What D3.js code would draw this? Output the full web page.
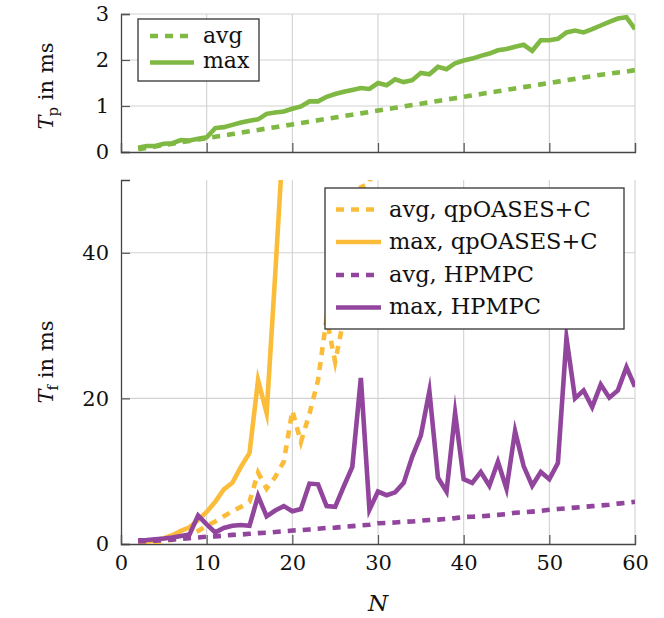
<!DOCTYPE html>
<html><head><meta charset="utf-8">
<script src="https://cdn.jsdelivr.net/npm/d3@7"></script>
<style>
body{margin:0;background:#fff;}
svg text{font-family:"DejaVu Serif",serif;fill:#111;}
</style></head>
<body><svg id="c" width="664" height="618"></svg>
<script>
// ---- data ----
const N = [2,3,4,5,6,7,8,9,10,11,12,13,14,15,16,17,18,19,20,21,22,23,24,25,26,27,28,29,30,31,32,33,34,35,36,37,38,39,40,41,42,43,44,45,46,47,48,49,50,51,52,53,54,55,56,57,58,59,60];
const tpAvg = [0.06,0.09,0.12,0.15,0.18,0.21,0.24,0.27,0.30,0.33,0.36,0.39,0.42,0.45,0.48,0.51,0.54,0.57,0.60,0.63,0.66,0.69,0.72,0.75,0.78,0.81,0.84,0.87,0.90,0.93,0.96,0.99,1.02,1.05,1.08,1.11,1.14,1.17,1.20,1.23,1.26,1.29,1.32,1.35,1.38,1.41,1.44,1.47,1.50,1.53,1.56,1.59,1.62,1.65,1.68,1.70,1.73,1.75,1.78];
const tpMax = [0.09,0.13,0.13,0.18,0.19,0.26,0.25,0.29,0.32,0.52,0.54,0.59,0.64,0.68,0.71,0.83,0.86,0.88,0.94,0.99,1.10,1.10,1.20,1.26,1.31,1.35,1.39,1.37,1.50,1.45,1.58,1.52,1.56,1.72,1.69,1.85,1.80,1.93,1.99,2.03,2.09,2.14,2.21,2.24,2.29,2.33,2.20,2.43,2.43,2.46,2.60,2.64,2.60,2.67,2.75,2.83,2.90,2.93,2.67];
const qpAvgN = [2,3,4,5,6,7,8,9,10,11,12,13,14,15,16,17,18,19,20,21,22,23,24,25,26,27,28,29,30];
const qpAvg = [0.1,0.15,0.25,0.4,0.6,0.9,1.3,1.8,2.5,3.1,3.8,4.5,5.1,5.8,9.8,7.6,9.2,11.3,18.3,14.0,17.9,22.5,31.0,25.0,31.0,40.0,49.0,49.5,56.0];
const qpMaxN = [2,3,4,5,6,7,8,9,10,11,12,13,14,15,16,17,18,19];
const qpMax = [0.2,0.3,0.5,0.8,1.2,1.8,2.3,3.3,4.4,5.8,7.5,8.4,10.6,12.5,22.5,18.0,37.0,57.0];
const hpAvg = [0.35,0.4,0.45,0.55,0.6,0.7,0.8,0.9,1.0,1.05,1.15,1.25,1.3,1.4,1.5,1.55,1.65,1.75,1.85,1.9,2.0,2.1,2.2,2.25,2.35,2.45,2.55,2.65,2.85,2.9,2.95,3.05,3.1,3.2,3.3,3.35,3.45,3.55,3.7,3.75,3.8,3.9,4.0,4.1,4.3,4.35,4.45,4.55,4.7,4.8,4.9,5.0,5.1,5.2,5.3,5.4,5.55,5.65,5.8];
const hpMax = [0.5,0.55,0.65,0.75,0.9,1.1,1.3,3.9,2.7,1.6,2.2,2.5,2.6,2.5,6.6,3.8,4.6,5.2,4.5,4.8,8.3,8.2,5.2,5.1,7.9,10.6,22.8,4.7,7.2,6.7,7.1,8.4,12.0,14.9,21.0,9.1,7.2,18.0,8.9,8.4,9.9,8.0,11.3,7.6,15.5,10.7,8.0,9.9,8.9,11.1,28.3,20.0,21.1,18.8,21.9,20.1,21.1,24.3,21.6];
const xTicks = [0,10,20,30,40,50,60];
const topTicks = [0,1,2,3];
const botTicks = [0,20,40];
const topLegend = ["avg","max"];
const botLegend = ["avg, qpOASES+C","max, qpOASES+C","avg, HPMPC","max, HPMPC"];

// ---- style ----
const GREEN="#7fb843", YELLOW="#fbbd39", PURPLE="#91459c";
const LW=4.6, DASH="8,7";
const svg = d3.select("#c");
const x = d3.scaleLinear().domain([0,60]).range([121,635]);
const yT = d3.scaleLinear().domain([0,3]).range([152,14]);
const yB = d3.scaleLinear().domain([0,50]).range([544,180]);

const defs = svg.append("defs");
defs.append("clipPath").attr("id","clipT").append("rect").attr("x",121).attr("y",14).attr("width",514).attr("height",138);
defs.append("clipPath").attr("id","clipB").append("rect").attr("x",121).attr("y",180).attr("width",514).attr("height",364);

function panel(y, yticks){
  const g = svg.append("g");
  g.append("g").selectAll("line").data(xTicks.filter(d=>d>0)).join("line")
    .attr("x1",d=>x(d)).attr("x2",d=>x(d)).attr("y1",y.range()[0]).attr("y2",y.range()[1])
    .attr("stroke","#d2d2d2").attr("stroke-width",1.1);
  g.append("g").selectAll("line").data(yticks.filter(d=>d>0)).join("line")
    .attr("x1",121).attr("x2",635).attr("y1",d=>y(d)).attr("y2",d=>y(d))
    .attr("stroke","#d2d2d2").attr("stroke-width",1.1);
  const ax = d3.axisLeft(y).tickValues(yticks).tickSize(-9).tickPadding(12).tickFormat(d3.format("d"));
  const ag = g.append("g").attr("transform","translate(121,0)").call(ax).attr("font-family",null);
  ag.select(".domain").attr("stroke","#444").attr("stroke-width",1.3);
  ag.selectAll(".tick line").attr("stroke","#555").attr("stroke-width",1.2);
  ag.selectAll("text").attr("font-size",21).attr("fill","#111");
  const bx = d3.axisBottom(x).tickValues(xTicks).tickSize(-9).tickPadding(11).tickFormat(d3.format("d"));
  const bg = g.append("g").attr("transform",`translate(0,${y.range()[0]})`).call(bx).attr("font-family",null);
  bg.select(".domain").attr("stroke","#444").attr("stroke-width",1.3);
  bg.selectAll(".tick line").attr("stroke","#555").attr("stroke-width",1.2);
  bg.selectAll("text").attr("font-size",21).attr("fill","#111");
  return {g, bg};
}

const T = panel(yT, topTicks);
T.bg.selectAll("text").remove();
const B = panel(yB, botTicks);

function line(g, xs, ys, y, color, dashed, clip){
  const pts = xs.map((n,i)=>[n, ys[i]]);
  g.append("path").datum(pts)
    .attr("clip-path",`url(#${clip})`)
    .attr("d", d3.line().x(d=>x(d[0])).y(d=>y(d[1])))
    .attr("fill","none").attr("stroke",color).attr("stroke-width",LW)
    .attr("stroke-linejoin","miter").attr("stroke-miterlimit",10)
    .attr("stroke-dasharray", dashed?DASH:null);
}
line(T.g, N, tpAvg, yT, GREEN, true, "clipT");
line(T.g, N, tpMax, yT, GREEN, false, "clipT");
line(B.g, qpAvgN, qpAvg, yB, YELLOW, true, "clipB");
line(B.g, qpMaxN, qpMax, yB, YELLOW, false, "clipB");
line(B.g, N, hpAvg, yB, PURPLE, true, "clipB");
line(B.g, N, hpMax, yB, PURPLE, false, "clipB");

function legend(x0,y0,w,h,items,sx1,sx2,tx,rows,base,fs){
  const lg = svg.append("g");
  lg.append("rect").attr("x",x0).attr("y",y0).attr("width",w).attr("height",h)
    .attr("fill","#fff").attr("stroke","#333").attr("stroke-width",1.3);
  items.forEach((it,i)=>{
    lg.append("line").attr("x1",sx1).attr("x2",sx2).attr("y1",rows[i]).attr("y2",rows[i])
      .attr("stroke",it.c).attr("stroke-width",LW).attr("stroke-dasharray",it.d?DASH:null);
    lg.append("text").attr("x",tx).attr("y",base[i]).attr("font-size",fs).text(it.t);
  });
}
legend(138,19,121,62,[{t:topLegend[0],c:GREEN,d:true},{t:topLegend[1],c:GREEN,d:false}],150,194,203,[36,62.5],[42.5,67.5],22);
legend(325,188,299,141,[
  {t:botLegend[0],c:YELLOW,d:true},{t:botLegend[1],c:YELLOW,d:false},
  {t:botLegend[2],c:PURPLE,d:true},{t:botLegend[3],c:PURPLE,d:false}],
  336,381,389,[209.5,242,275,307.5],[216.5,249,281.5,314],22.5);

function ylabel(cx, cy, sub){
  const t = svg.append("text").attr("transform",`translate(${cx},${cy}) rotate(-90)`)
    .attr("text-anchor","middle").attr("font-size",21);
  t.append("tspan").attr("font-style","italic").text("T");
  t.append("tspan").attr("font-size",15).attr("dy",5).attr("dx",-1).text(sub);
  t.append("tspan").attr("dy",-5).text(" in ms");
}
ylabel(53, 86, "p");
ylabel(53, 362, "f");
svg.append("text").attr("x",378).attr("y",611).attr("text-anchor","middle")
  .attr("font-size",23).attr("font-style","italic").text("N");
</script></body></html>
